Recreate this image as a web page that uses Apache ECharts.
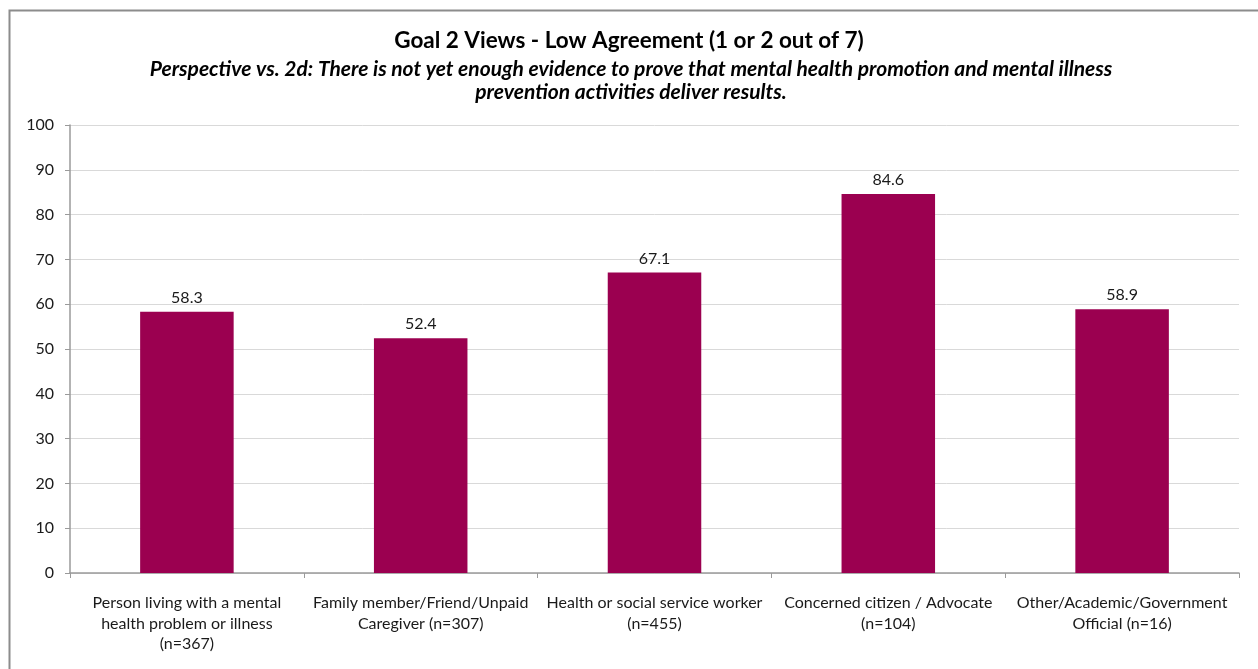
<!DOCTYPE html>
<html>
<head>
<meta charset="utf-8">
<script src="https://cdn.jsdelivr.net/npm/echarts@6/dist/echarts.min.js"></script>
<style>
  html, body { margin: 0; padding: 0; background: #fff; }
  #chart { width: 1258px; height: 669px; }
</style>
</head>
<body>
<div id="chart"></div>
<script>
// Respondent perspective groups and share with low agreement (%)
const categories = [
  'Person living with a mental\nhealth problem or illness\n(n=367)',
  'Family member/Friend/Unpaid\nCaregiver (n=307)',
  'Health or social service worker\n(n=455)',
  'Concerned citizen / Advocate\n(n=104)',
  'Other/Academic/Government\nOfficial (n=16)'
];
const lowAgreement = [58.3, 52.4, 67.1, 84.6, 58.9];
const yTicks = { min: 0, max: 100, interval: 10 };

const FONT = 'Lato, "Open Sans", sans-serif';
const chart = echarts.init(document.getElementById('chart'), null, { renderer: 'canvas' });

chart.setOption({
  animation: false,
  backgroundColor: '#fff',
  title: {
    text: 'Goal 2 Views - Low Agreement (1 or 2 out of 7)',
    left: 'center', top: 24,
    textStyle: { fontFamily: FONT, fontSize: 22.5, fontWeight: 'bold', color: '#000' }
  },
  graphic: [
    {
      // subtitle, two centred lines
      type: 'text', x: 631, y: 58, silent: true,
      style: {
        text: 'Perspective vs. 2d: There is not yet enough evidence to prove that mental health promotion and mental illness\nprevention activities deliver results.',
        align: 'center', verticalAlign: 'top',
        fontFamily: FONT, fontSize: 21, fontWeight: 'bold', fontStyle: 'italic',
        lineHeight: 22.5, fill: '#000'
      }
    },
    {
      // chart frame
      type: 'rect', left: 7, top: 8, z: 100, silent: true,
      shape: { width: 1250, height: 680 },
      style: { fill: 'none', stroke: '#8c8c8c', lineWidth: 2 }
    }
  ],
  grid: { left: 70, right: 19, top: 125, bottom: 96, containLabel: false },
  xAxis: {
    type: 'category',
    data: categories,
    axisLine: { lineStyle: { color: '#9a9a9a', width: 1.5 } },
    axisTick: { show: true, alignWithLabel: false, length: 5, lineStyle: { color: '#9a9a9a' } },
    axisLabel: {
      interval: 0, margin: 20, color: '#1a1a1a',
      fontFamily: FONT, fontSize: 16, lineHeight: 20.5, align: 'center'
    }
  },
  yAxis: {
    type: 'value',
    min: yTicks.min, max: yTicks.max, interval: yTicks.interval,
    axisLine: { show: true, lineStyle: { color: '#9a9a9a', width: 1.5 } },
    axisTick: { show: true, length: 5, lineStyle: { color: '#9a9a9a' } },
    splitLine: { show: true, lineStyle: { color: '#d9d9d9', width: 1 } },
    axisLabel: { margin: 16, color: '#1a1a1a', fontFamily: FONT, fontSize: 16 }
  },
  series: [
    {
      type: 'bar',
      data: lowAgreement,
      barWidth: '40%',
      itemStyle: { color: '#9b0050' },
      label: {
        show: true, position: 'top', distance: 6,
        color: '#1a1a1a', fontFamily: FONT, fontSize: 16,
        formatter: p => p.value.toFixed(1)
      }
    }
  ]
});
</script>
</body>
</html>
